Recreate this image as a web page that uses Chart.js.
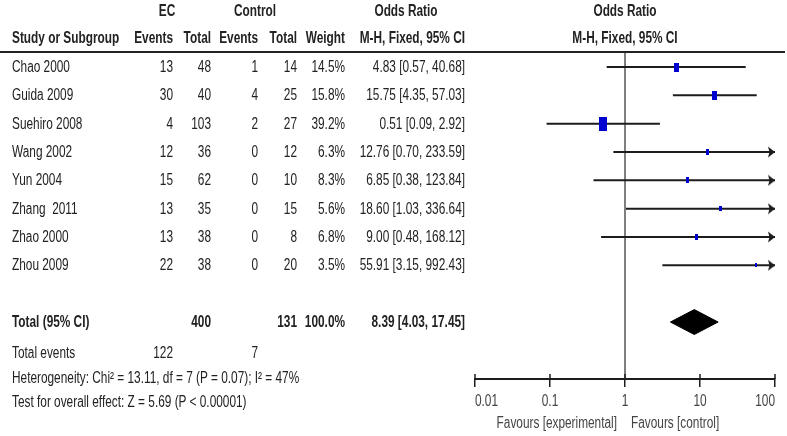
<!DOCTYPE html>
<html>
<head>
<meta charset="utf-8">
<script src="https://cdn.jsdelivr.net/npm/chart.js@4.4.1/dist/chart.umd.min.js"></script>
<style>
body { margin: 0; background: #fff; }
#wrap { position: relative; width: 787px; height: 436px; overflow: hidden;
        font-family: "Liberation Sans", Arial, sans-serif; font-size: 16px; color: #222; }
#forest { position: absolute; left: 0; top: 0; }
.t { position: absolute; white-space: pre; line-height: 1; }
.b { font-weight: bold; }
.g { color: #444; }
#rule { position: absolute; left: 0; top: 51px; width: 785px; height: 2px; background: #222; }
</style>
</head>
<body>
<div id="wrap">
    <canvas id="forest" width="787" height="436"></canvas>
    <div id="rule"></div>
</div>
<script>
// Forest plot: EC vs Control, odds ratio (M-H, fixed, 95% CI)

const studies = ['Chao 2000', 'Guida 2009', 'Suehiro 2008', 'Wang 2002', 'Yun 2004', 'Zhang  2011', 'Zhao 2000', 'Zhou 2009'];
const ecEvents = [13, 30, 4, 12, 15, 13, 13, 22];
const ecTotal = [48, 40, 103, 36, 62, 35, 38, 38];
const ctrlEvents = [1, 4, 2, 0, 0, 0, 0, 0];
const ctrlTotal = [14, 25, 27, 12, 10, 15, 8, 20];
const weights = [14.5, 15.8, 39.2, 6.3, 8.3, 5.6, 6.8, 3.5];
const oddsRatio = [4.83, 15.75, 0.51, 12.76, 6.85, 18.60, 9.00, 55.91];
const ciLow = [0.57, 4.35, 0.09, 0.70, 0.38, 1.03, 0.48, 3.15];
const ciHigh = [40.68, 57.03, 2.92, 233.59, 123.84, 336.64, 168.12, 992.43];

// pooled result
const pooledEcTotal = 400;
const pooledCtrlTotal = 131;
const pooledEcEvents = 122;
const pooledCtrlEvents = 7;
const pooledWeight = 100.0;
const pooledOr = 8.39;
const pooledLow = 4.03;
const pooledHigh = 17.45;

const xTicks = [0.01, 0.1, 1, 10, 100];
const xTickLabels = ['0.01', '0.1', '1', '10', '100'];

const X_MIN = 0.01, X_MAX = 100;
const Y_MIN = -0.53, Y_MAX = 11.01;
const TOTAL_ROW = 9;
const LINE_COLOR = '#1c1c1c';
const BOX_COLOR = '#0000d0';
// the picture is squeezed sideways, so text is drawn narrow and tall
const TEXT_SCALE = 'scale(0.74, 1.04)';

// ==================== MARKERS ====================

function boxImage(w) {
    const h = Math.max(4, Math.round(2.25 * Math.sqrt(w)));
    const bw = Math.max(2, Math.round(h * 0.56));
    const c = document.createElement('canvas');
    c.width = bw;
    c.height = h;
    const g = c.getContext('2d');
    g.fillStyle = BOX_COLOR;
    g.fillRect(0, 0, bw, h);
    return c;
}

// arrow head whose tip sits at the image centre
function arrowImage() {
    const c = document.createElement('canvas');
    c.width = 16;
    c.height = 12;
    const g = c.getContext('2d');
    g.fillStyle = LINE_COLOR;
    g.beginPath();
    g.moveTo(1, 0.5);
    g.lineTo(8, 6);
    g.lineTo(1, 11.5);
    g.lineTo(2.5, 6);
    g.closePath();
    g.fill();
    return c;
}

// ==================== DATASETS ====================

const datasets = [];

// study boxes (drawn on top)
datasets.push({
    data: studies.map((s, i) => ({ x: oddsRatio[i], y: i })),
    pointStyle: weights.map(boxImage),
    pointRadius: 3,
    showLine: false
});

// arrows where the CI runs past the axis
const arrow = arrowImage();
datasets.push({
    data: studies.map((s, i) => ({ x: X_MAX, y: i })).filter((p, i) => ciHigh[i] > X_MAX),
    pointStyle: arrow,
    pointRadius: 3,
    showLine: false,
    clip: false
});

// pooled diamond
datasets.push({
    data: [
        { x: pooledLow, y: TOTAL_ROW },
        { x: pooledOr, y: TOTAL_ROW - 0.44 },
        { x: pooledHigh, y: TOTAL_ROW },
        { x: pooledOr, y: TOTAL_ROW + 0.44 },
        { x: pooledLow, y: TOTAL_ROW }
    ],
    showLine: true,
    fill: 'shape',
    backgroundColor: '#000',
    borderColor: '#000',
    borderWidth: 1,
    pointRadius: 0
});

// confidence interval lines
studies.forEach((s, i) => {
    datasets.push({
        data: [
            { x: Math.max(ciLow[i], X_MIN), y: i },
            { x: Math.min(ciHigh[i], X_MAX), y: i }
        ],
        showLine: true,
        borderColor: LINE_COLOR,
        borderWidth: 2,
        pointRadius: 0
    });
});

// line of no effect
datasets.push({
    data: [{ x: 1, y: Y_MIN }, { x: 1, y: Y_MAX }],
    showLine: true,
    borderColor: '#555',
    borderWidth: 1.5,
    pointRadius: 0
});

// upper half of the axis tick marks
const tickUp = {
    id: 'tickUp',
    afterDraw(chart) {
        const s = chart.scales.x;
        const g = chart.ctx;
        const y0 = chart.chartArea.bottom;
        g.save();
        g.strokeStyle = LINE_COLOR;
        g.lineWidth = 1.5;
        xTicks.forEach(v => {
            const px = s.getPixelForValue(v);
            g.beginPath();
            g.moveTo(px, y0);
            g.lineTo(px, y0 - 5);
            g.stroke();
        });
        g.restore();
    }
};

const chart = new Chart(document.getElementById('forest'), {
    type: 'scatter',
    data: { datasets: datasets },
    options: {
        responsive: false,
        animation: false,
        layout: { padding: { left: 475, right: 12, top: 52, bottom: 49 } },
        plugins: {
            legend: { display: false },
            tooltip: { enabled: false }
        },
        scales: {
            x: {
                type: 'logarithmic',
                min: X_MIN,
                max: X_MAX,
                afterBuildTicks: scale => {
                    scale.ticks = xTicks.map(v => ({ value: v }));
                },
                // labels are set as text below, squeezed like the rest
                ticks: { display: false, autoSkip: false },
                grid: { drawOnChartArea: false, tickLength: 8, color: LINE_COLOR, lineWidth: 1.5 },
                border: { color: LINE_COLOR, width: 2 }
            },
            y: {
                type: 'linear',
                reverse: true,
                min: Y_MIN,
                max: Y_MAX,
                display: false
            }
        }
    },
    plugins: [tickUp]
});

// ==================== TABLE TEXT ====================

const wrap = document.getElementById('wrap');
const COL = { name: 12, ecEv: 173, ecTot: 211, ctEv: 258, ctTot: 297, wt: 345, ci: 465 };

function text(str, x, y, align, cls) {
    const el = document.createElement('div');
    el.className = 't' + (cls ? ' ' + cls : '');
    el.textContent = str;
    el.style.left = x + 'px';
    el.style.top = y + 'px';
    const tx = align === 'right' ? '-100%' : align === 'center' ? '-50%' : '0';
    const ox = align === 'right' ? 'right' : align === 'center' ? 'center' : 'left';
    el.style.transformOrigin = ox + ' center';
    el.style.transform = `translate(${tx}, -50%) ${TEXT_SCALE}`;
    wrap.appendChild(el);
}

const fmt2 = v => v.toFixed(2);
const ciText = (o, l, h) => `${fmt2(o)} [${fmt2(l)}, ${fmt2(h)}]`;

// headers
text('EC', 167, 11, 'center', 'b');
text('Control', 255, 11, 'center', 'b');
text('Odds Ratio', 406, 11, 'center', 'b');
text('Odds Ratio', 625, 11, 'center', 'b');
text('Study or Subgroup', COL.name, 38, 'left', 'b');
text('Events', COL.ecEv, 38, 'right', 'b');
text('Total', COL.ecTot, 38, 'right', 'b');
text('Events', COL.ctEv, 38, 'right', 'b');
text('Total', COL.ctTot, 38, 'right', 'b');
text('Weight', COL.wt, 38, 'right', 'b');
text('M-H, Fixed, 95% CI', COL.ci, 38, 'right', 'b');
text('M-H, Fixed, 95% CI', 625, 38, 'center', 'b');

const yPx = row => chart.scales.y.getPixelForValue(row);

studies.forEach((s, i) => {
    const y = yPx(i);
    text(s, COL.name, y, 'left');
    text(String(ecEvents[i]), COL.ecEv, y, 'right');
    text(String(ecTotal[i]), COL.ecTot, y, 'right');
    text(String(ctrlEvents[i]), COL.ctEv, y, 'right');
    text(String(ctrlTotal[i]), COL.ctTot, y, 'right');
    text(weights[i].toFixed(1) + '%', COL.wt, y, 'right');
    text(ciText(oddsRatio[i], ciLow[i], ciHigh[i]), COL.ci, y, 'right');
});

const yTot = yPx(TOTAL_ROW);
text('Total (95% CI)', COL.name, yTot, 'left', 'b');
text(String(pooledEcTotal), COL.ecTot, yTot, 'right', 'b');
text(String(pooledCtrlTotal), COL.ctTot, yTot, 'right', 'b');
text(pooledWeight.toFixed(1) + '%', COL.wt, yTot, 'right', 'b');
text(ciText(pooledOr, pooledLow, pooledHigh), COL.ci, yTot, 'right', 'b');

text('Total events', COL.name, 353, 'left');
text(String(pooledEcEvents), COL.ecEv, 353, 'right');
text(String(pooledCtrlEvents), COL.ctEv, 353, 'right');
text('Heterogeneity: Chi\u00b2 = 13.11, df = 7 (P = 0.07); I\u00b2 = 47%', COL.name, 378, 'left');
text('Test for overall effect: Z = 5.69 (P < 0.00001)', COL.name, 402, 'left');

// axis tick labels, placed by the x scale; end labels stay inside the axis
const xScale = chart.scales.x;
xTicks.forEach((v, i) => {
    const align = i === 0 ? 'left' : i === xTicks.length - 1 ? 'right' : 'center';
    text(xTickLabels[i], xScale.getPixelForValue(v), 401, align, 'g');
});

// favours labels either side of the line of no effect
const x1 = xScale.getPixelForValue(1);
text('Favours [experimental]', x1 - 8, 423, 'right', 'g');
text('Favours [control]', x1 + 6, 423, 'left', 'g');
</script>
</body>
</html>
